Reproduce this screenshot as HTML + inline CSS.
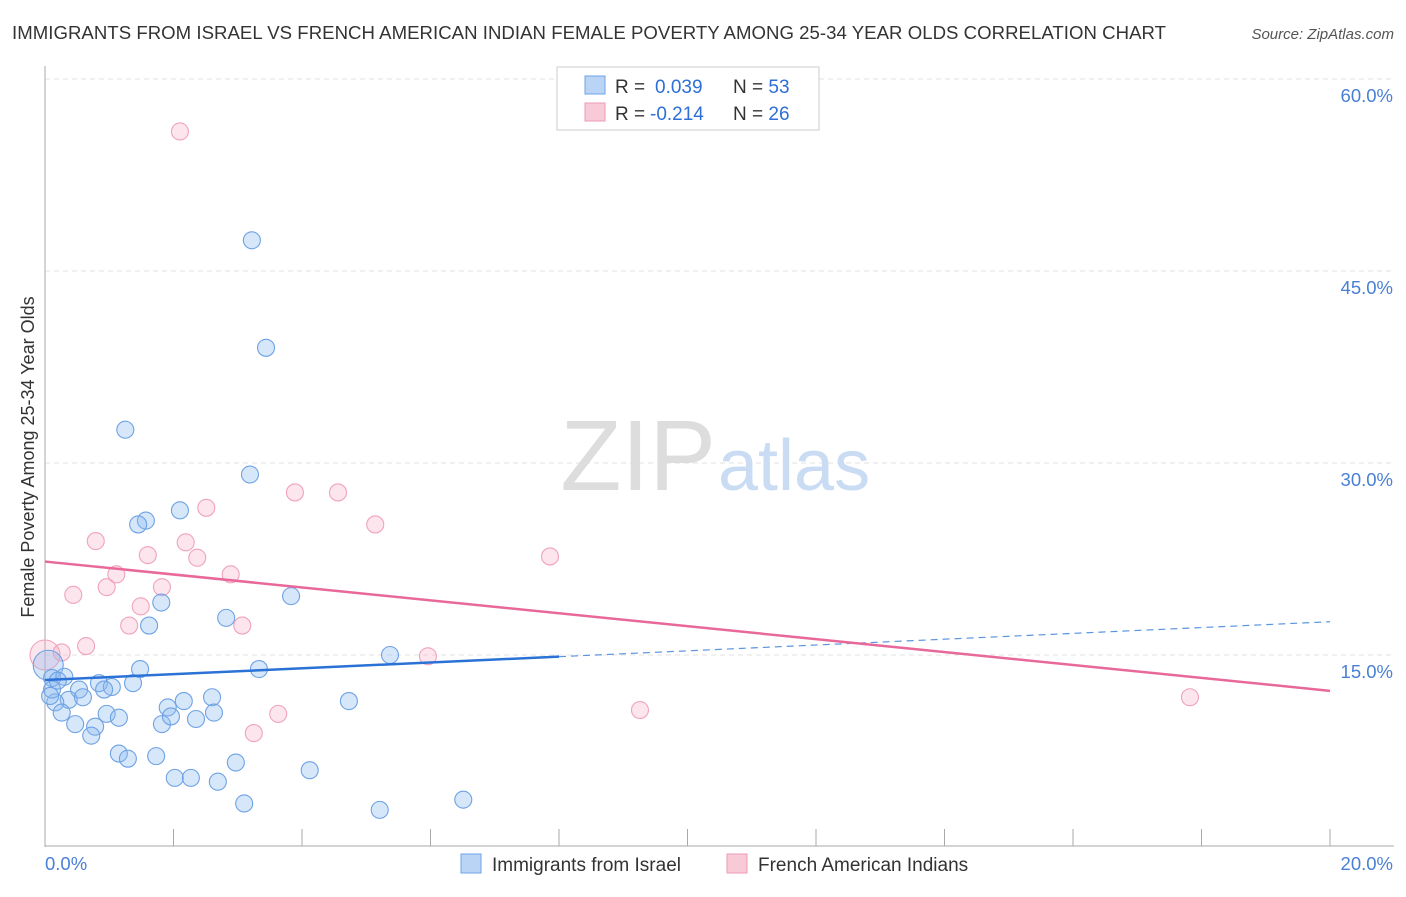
<!DOCTYPE html>
<html><head><meta charset="utf-8"><style>
body{margin:0;background:#fff;font-family:"Liberation Sans",sans-serif;}
svg text{font-family:"Liberation Sans",sans-serif;}
</style></head><body>
<svg id="chart" width="1406" height="892">
<text x="12" y="39" font-size="18.6" fill="#333" textLength="1154">IMMIGRANTS FROM ISRAEL VS FRENCH AMERICAN INDIAN FEMALE POVERTY AMONG 25-34 YEAR OLDS CORRELATION CHART</text>
<text x="1394" y="39" font-size="15" fill="#555" font-style="italic" text-anchor="end">Source: ZipAtlas.com</text>
<g id="grid"></g>
<text x="716" y="490" font-size="100" fill="#ddd" text-anchor="end" font-family="Liberation Serif">ZIP</text>
<text x="718" y="490" font-size="72" fill="#c9dcf3">atlas</text>
<g id="marks"></g>
<text transform="translate(34,457) rotate(-90)" font-size="18" fill="#333" text-anchor="middle">Female Poverty Among 25-34 Year Olds</text>
<g>
<rect x="557" y="67" width="262" height="63" fill="#fff" stroke="#ccc"/>
<rect x="585" y="76" width="20" height="18" fill="#b9d4f5" stroke="#6fa3e6"/>
<text x="615" y="93" font-size="19" fill="#333">R = <tspan x="655" fill="#2d6fd6">0.039</tspan><tspan x="733">N = </tspan><tspan fill="#2d6fd6">53</tspan></text>
<rect x="585" y="103" width="20" height="18" fill="#f8c9d6" stroke="#ee9ab4"/>
<text x="615" y="120" font-size="19" fill="#333">R = <tspan x="650" fill="#2d6fd6">-0.214</tspan><tspan x="733">N = </tspan><tspan fill="#2d6fd6">26</tspan></text>
</g>
<g>
<rect x="461" y="854" width="20" height="19" fill="#b9d4f5" stroke="#6fa3e6"/>
<text x="492" y="871" font-size="19" fill="#333">Immigrants from Israel</text>
<rect x="727" y="854" width="20" height="19" fill="#f8c9d6" stroke="#ee9ab4"/>
<text x="758" y="871" font-size="19" fill="#333">French American Indians</text>
</g>
</svg>
<script>
const blueX=[3.22,3.44,1.25,3.19,2.10,1.57,1.45,1.81,1.62,2.82,3.83,5.37,1.48,3.33,0.05,0.11,0.30,0.84,1.04,0.92,1.37,0.53,0.37,0.59,0.16,0.26,2.16,2.60,1.91,4.73,0.96,1.15,0.47,0.78,0.72,1.82,1.96,2.35,2.63,1.15,1.29,1.73,2.97,2.02,2.27,2.69,4.12,3.10,5.21,6.51,0.11,0.08,0.2];
const blueY=[47.4,39.0,32.6,29.1,26.3,25.5,25.2,19.1,17.3,17.9,19.6,15.0,13.9,13.9,14.2,13.2,13.3,12.8,12.5,12.3,12.8,12.3,11.5,11.7,11.3,10.5,11.4,11.7,10.9,11.4,10.4,10.1,9.6,9.4,8.7,9.6,10.2,10.0,10.5,7.3,6.9,7.1,6.6,5.4,5.4,5.1,6.0,3.4,2.9,3.7,12.3,11.8,13.0];
const blueBig=[14];
const pinkX=[2.10,2.51,3.89,4.56,5.14,7.86,0.79,2.19,1.60,2.37,1.11,2.89,0.96,1.82,0.44,1.49,1.31,3.07,0.64,0.26,0.0,5.96,3.63,3.25,9.26,17.82];
const pinkY=[55.9,26.5,27.7,27.7,25.2,22.7,23.9,23.8,22.8,22.6,21.3,21.3,20.3,20.3,19.7,18.8,17.3,17.3,15.7,15.2,15.0,14.9,10.4,8.9,10.7,11.7];
const pinkBig=[20];
const blueTrend=[13.05,17.6];
const blueSolidEnd=8.0;
const pinkTrend=[22.3,12.2];
const yTicks=[15,30,45,60];
const yTickLabels=["15.0%","30.0%","45.0%","60.0%"];
const xTicks=[0,2,4,6,8,10,12,14,16,18,20];

const NS="http://www.w3.org/2000/svg";
const X=v=>45+v*64.25, Y=v=>847-v*12.8;
function mk(t,a,p){const e=document.createElementNS(NS,t);for(const k in a)e.setAttribute(k,a[k]);p.appendChild(e);return e;}
const grid=document.getElementById('grid'), marks=document.getElementById('marks');
yTicks.forEach((t,i)=>{
 const l=mk('line',{x1:45,x2:1394,y1:Y(t),y2:Y(t),stroke:'#e2e2e2','stroke-dasharray':'5,4'},grid);
 
 
 const tx=mk('text',{x:1393,y:Y(t)+23,'font-size':18.5,fill:'#4a7fd6','text-anchor':'end'},grid);
 tx.textContent=yTickLabels[i];
 
 
});
const ax=mk('line',{x1:45,x2:45,y1:66,y2:847,stroke:'#aaa'},grid);


const bx=mk('line',{x1:45,x2:1394,y1:846,y2:846,stroke:'#aaa'},grid);


xTicks.forEach(t=>{const l=mk('line',{x1:X(t),x2:X(t),y1:829,y2:846,stroke:'#aaa'},grid);
 
 });
const x0=mk('text',{x:45,y:870,'font-size':18.5,fill:'#4a7fd6'},grid);x0.textContent='0.0%';


const x1=mk('text',{x:1393,y:870,'font-size':18.5,fill:'#4a7fd6','text-anchor':'end'},grid);x1.textContent='20.0%';


function dots(xs,ys,big,fill,stroke,name){xs.forEach((x,i)=>{
 const b=big.includes(i);
 const c=mk('circle',{cx:X(x),cy:Y(ys[i]),r:b?15:8.5,fill:fill,stroke:stroke,'stroke-width':1.1},marks);
 
 });}
dots(pinkX,pinkY,pinkBig,'rgba(245,170,195,0.3)','#f0a3bb','point-french-american-indians');
dots(blueX,blueY,blueBig,'rgba(140,185,240,0.35)','#6ea2e4','point-immigrants-israel');
const slope=(blueTrend[1]-blueTrend[0])/20;
const bs=mk('line',{x1:X(0),y1:Y(blueTrend[0]),x2:X(blueSolidEnd),y2:Y(blueTrend[0]+slope*blueSolidEnd),stroke:'#2b72d6','stroke-width':2.5},marks);


const bd=mk('line',{x1:X(blueSolidEnd),y1:Y(blueTrend[0]+slope*blueSolidEnd),x2:X(20),y2:Y(blueTrend[1]),stroke:'#5b95e0','stroke-width':1.2,'stroke-dasharray':'7,5'},marks);


const pt=mk('line',{x1:X(0),y1:Y(pinkTrend[0]),x2:X(20),y2:Y(pinkTrend[1]),stroke:'#e8689a','stroke-width':2.5},marks);


</script>
</body></html>
